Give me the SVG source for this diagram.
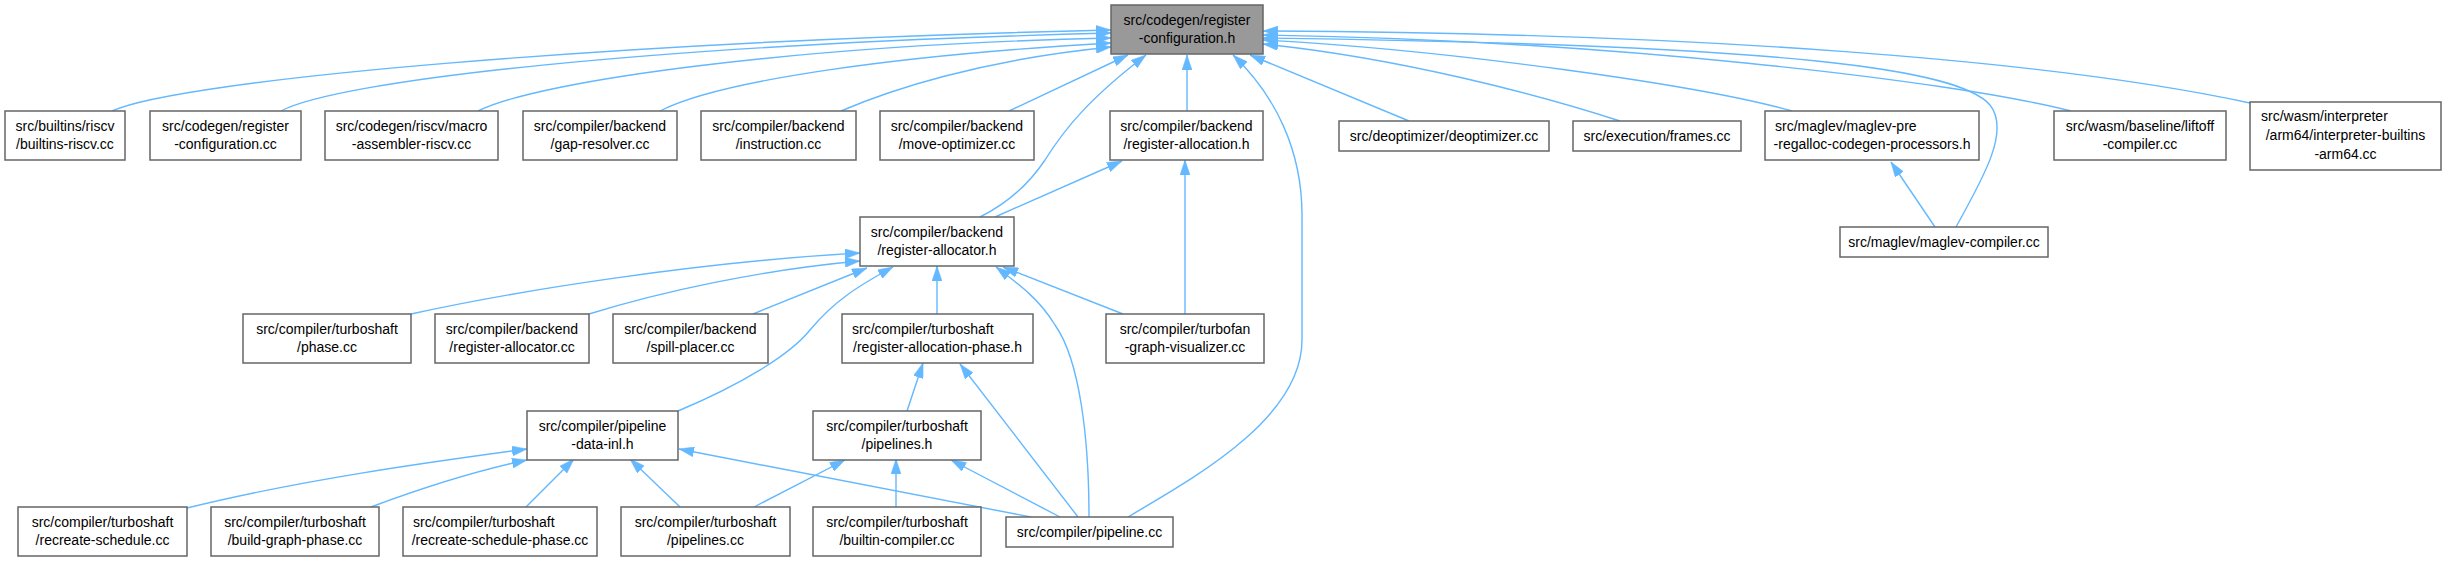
<svg xmlns="http://www.w3.org/2000/svg" width="2446" height="562" viewBox="0 0 2446 562">
<style>
.n rect{fill:#ffffff;stroke:#666666;stroke-width:1.5}
.m rect{fill:#999999;stroke:#666666;stroke-width:1.5}
text{font-family:"Liberation Sans",Arial,sans-serif;font-size:14px;fill:#000000;text-anchor:middle}
text.l{text-anchor:start}
#edges path{fill:none;stroke:#63b8ff;stroke-width:1.4;marker-end:url(#ah)}
</style>
<defs>
<marker id="ah" markerUnits="userSpaceOnUse" markerWidth="15" markerHeight="10" refX="15" refY="5" orient="auto" viewBox="0 0 15 10">
<path d="M0,0 L15,5 L0,10 Z" fill="#63b8ff" stroke="#63b8ff" stroke-width="0.5"/>
</marker>
</defs>
<rect x="0" y="0" width="2446" height="562" fill="#ffffff"/>
<g id="edges">
<path d="M112,111 C180,80 600,42 1111,30"/>
<path d="M281,111 C340,80 650,45 1111,33"/>
<path d="M478,111 C540,80 800,45 1111,38"/>
<path d="M660,111 C720,80 900,55 1111,43"/>
<path d="M841,111 C890,90 980,60 1111,47"/>
<path d="M1009,111 L1128,55"/>
<path d="M980,217 C1000,207 1025,190 1045,160 C1065,128 1090,98 1146,55"/>
<path d="M1187,111 L1187,55"/>
<path d="M1128,517 C1190,480 1302,420 1302,340 L1302,215 C1302,150 1275,95 1233,55"/>
<path d="M1409,121 L1250,55"/>
<path d="M1620,121 C1540,95 1400,58 1263,44"/>
<path d="M1792,111 C1700,85 1450,50 1263,40"/>
<path d="M2071,111 C1950,80 1600,40 1263,35"/>
<path d="M2250,103 C2050,60 1700,33 1263,31"/>
<path d="M1956,227 C1985,175 2010,130 1990,105 C1960,70 1800,45 1263,38"/>
<path d="M1935,227 L1891,162"/>
<path d="M411,314 C520,290 700,262 860,253"/>
<path d="M589,314 C660,292 760,270 860,261"/>
<path d="M753,314 L867,268"/>
<path d="M678,411 C740,385 790,355 810,330 C835,300 860,285 893,267"/>
<path d="M937,314 L937,266"/>
<path d="M1089,517 C1089,440 1080,360 1055,325 C1040,300 1020,285 996,267"/>
<path d="M1123,314 L1003,267"/>
<path d="M995,217 L1122,161"/>
<path d="M1185,314 L1185,160"/>
<path d="M907,411 L923,363"/>
<path d="M1078,517 L960,364"/>
<path d="M754,507 L845,460"/>
<path d="M896,507 L896,459"/>
<path d="M1060,517 L951,460"/>
<path d="M187,508 C300,480 430,462 527,449"/>
<path d="M371,507 C430,485 480,470 527,460"/>
<path d="M526,507 L574,459"/>
<path d="M680,507 L630,459"/>
<path d="M1031,517 L679,449"/>
</g>
<g id="main" class="m"><rect x="1111" y="5" width="152" height="49"/><text x="1187" y="24.5">src/codegen/register</text><text x="1187" y="43">-configuration.h</text></g>
<g id="n_builtins_riscv" class="n"><rect x="5" y="111" width="120" height="49"/><text x="65" y="130.5">src/builtins/riscv</text><text x="65" y="149">/builtins-riscv.cc</text></g>
<g id="n_regconf_cc" class="n"><rect x="150" y="111" width="151" height="49"/><text x="225.5" y="130.5">src/codegen/register</text><text x="225.5" y="149">-configuration.cc</text></g>
<g id="n_macro_asm" class="n"><rect x="325" y="111" width="173" height="49"/><text x="411.5" y="130.5">src/codegen/riscv/macro</text><text x="411.5" y="149">-assembler-riscv.cc</text></g>
<g id="n_gap_resolver" class="n"><rect x="523" y="111" width="154" height="49"/><text x="600" y="130.5">src/compiler/backend</text><text x="600" y="149">/gap-resolver.cc</text></g>
<g id="n_instruction" class="n"><rect x="701" y="111" width="155" height="49"/><text x="778.5" y="130.5">src/compiler/backend</text><text x="778.5" y="149">/instruction.cc</text></g>
<g id="n_move_opt" class="n"><rect x="880" y="111" width="154" height="49"/><text x="957" y="130.5">src/compiler/backend</text><text x="957" y="149">/move-optimizer.cc</text></g>
<g id="n_reg_allocation_h" class="n"><rect x="1110" y="111" width="153" height="49"/><text x="1186.5" y="130.5">src/compiler/backend</text><text x="1186.5" y="149">/register-allocation.h</text></g>
<g id="n_deopt" class="n"><rect x="1339" y="121" width="210" height="30"/><text x="1444" y="141">src/deoptimizer/deoptimizer.cc</text></g>
<g id="n_frames" class="n"><rect x="1573" y="121" width="168" height="30"/><text x="1657" y="141">src/execution/frames.cc</text></g>
<g id="n_maglev_pre" class="n"><rect x="1765" y="111" width="214" height="49"/><text class="l" x="1775" y="130.5">src/maglev/maglev-pre</text><text x="1872" y="149">-regalloc-codegen-processors.h</text></g>
<g id="n_liftoff" class="n"><rect x="2054" y="111" width="172" height="49"/><text x="2140" y="130.5">src/wasm/baseline/liftoff</text><text x="2140" y="149">-compiler.cc</text></g>
<g id="n_interp_arm64" class="n"><rect x="2250" y="102" width="191" height="68"/><text class="l" x="2261" y="121">src/wasm/interpreter</text><text x="2345.5" y="140">/arm64/interpreter-builtins</text><text x="2345.5" y="159">-arm64.cc</text></g>
<g id="n_reg_allocator_h" class="n"><rect x="860" y="217" width="154" height="49"/><text x="937" y="236.5">src/compiler/backend</text><text x="937" y="255">/register-allocator.h</text></g>
<g id="n_maglev_compiler" class="n"><rect x="1840" y="227" width="208" height="30"/><text x="1944" y="247">src/maglev/maglev-compiler.cc</text></g>
<g id="n_ts_phase" class="n"><rect x="243" y="314" width="168" height="49"/><text x="327" y="333.5">src/compiler/turboshaft</text><text x="327" y="352">/phase.cc</text></g>
<g id="n_reg_allocator_cc" class="n"><rect x="435" y="314" width="154" height="49"/><text x="512" y="333.5">src/compiler/backend</text><text x="512" y="352">/register-allocator.cc</text></g>
<g id="n_spill_placer" class="n"><rect x="613" y="314" width="155" height="49"/><text x="690.5" y="333.5">src/compiler/backend</text><text x="690.5" y="352">/spill-placer.cc</text></g>
<g id="n_reg_alloc_phase" class="n"><rect x="842" y="314" width="191" height="49"/><text class="l" x="852" y="333.5">src/compiler/turboshaft</text><text x="937.5" y="352">/register-allocation-phase.h</text></g>
<g id="n_graph_vis" class="n"><rect x="1106" y="314" width="158" height="49"/><text x="1185" y="333.5">src/compiler/turbofan</text><text x="1185" y="352">-graph-visualizer.cc</text></g>
<g id="n_pipeline_data" class="n"><rect x="527" y="411" width="151" height="49"/><text x="602.5" y="430.5">src/compiler/pipeline</text><text x="602.5" y="449">-data-inl.h</text></g>
<g id="n_ts_pipelines_h" class="n"><rect x="813" y="411" width="168" height="49"/><text x="897" y="430.5">src/compiler/turboshaft</text><text x="897" y="449">/pipelines.h</text></g>
<g id="n_recreate_sched" class="n"><rect x="18" y="507" width="169" height="49"/><text x="102.5" y="526.5">src/compiler/turboshaft</text><text x="102.5" y="545">/recreate-schedule.cc</text></g>
<g id="n_build_graph" class="n"><rect x="211" y="507" width="168" height="49"/><text x="295" y="526.5">src/compiler/turboshaft</text><text x="295" y="545">/build-graph-phase.cc</text></g>
<g id="n_recreate_sched_phase" class="n"><rect x="403" y="507" width="194" height="49"/><text class="l" x="413" y="526.5">src/compiler/turboshaft</text><text x="500" y="545">/recreate-schedule-phase.cc</text></g>
<g id="n_ts_pipelines_cc" class="n"><rect x="621" y="507" width="169" height="49"/><text x="705.5" y="526.5">src/compiler/turboshaft</text><text x="705.5" y="545">/pipelines.cc</text></g>
<g id="n_builtin_compiler" class="n"><rect x="813" y="507" width="168" height="49"/><text x="897" y="526.5">src/compiler/turboshaft</text><text x="897" y="545">/builtin-compiler.cc</text></g>
<g id="n_pipeline_cc" class="n"><rect x="1006" y="517" width="167" height="30"/><text x="1089.5" y="537">src/compiler/pipeline.cc</text></g>
</svg>
